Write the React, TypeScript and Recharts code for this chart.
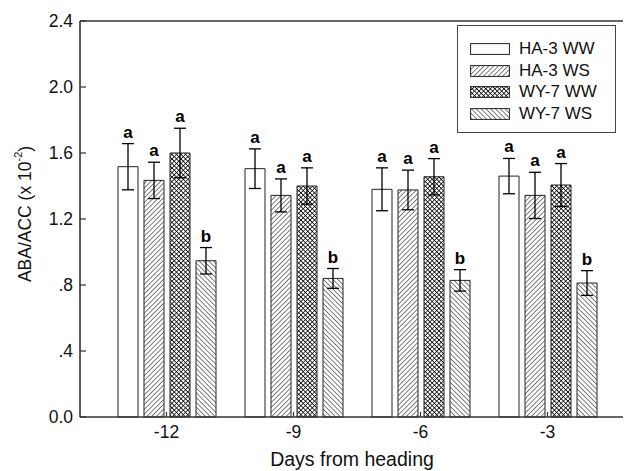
import React from "react";
import { BarChart, Bar, XAxis, YAxis, ErrorBar, LabelList, ReferenceLine, Legend } from "recharts";

const days = ["-12", "-9", "-6", "-3"];
const seriesNames = ["HA-3 WW", "HA-3 WS", "WY-7 WW", "WY-7 WS"];
const ha3ww = [1.517, 1.505, 1.38, 1.46];
const ha3wwErr = [0.14, 0.12, 0.13, 0.107];
const ha3ws = [1.434, 1.343, 1.376, 1.343];
const ha3wsErr = [0.11, 0.1, 0.12, 0.14];
const wy7ww = [1.6, 1.4, 1.456, 1.406];
const wy7wwErr = [0.15, 0.11, 0.11, 0.13];
const wy7ws = [0.947, 0.84, 0.828, 0.812];
const wy7wsErr = [0.08, 0.06, 0.065, 0.075];
const ha3wwLetters = ["a", "a", "a", "a"];
const ha3wsLetters = ["a", "a", "a", "a"];
const wy7wwLetters = ["a", "a", "a", "a"];
const wy7wsLetters = ["b", "b", "b", "b"];
const yTicks = [0, 0.4, 0.8, 1.2, 1.6, 2.0, 2.4];
const yTickLabels = ["0.0", ".4", ".8", "1.2", "1.6", "2.0", "2.4"];

const data = days.map((d, i) => ({
  day: d,
  ha3ww: ha3ww[i],
  ha3wwErr: ha3wwErr[i],
  ha3ws: ha3ws[i],
  ha3wsErr: ha3wsErr[i],
  wy7ww: wy7ww[i],
  wy7wwErr: wy7wwErr[i],
  wy7ws: wy7ws[i],
  wy7wsErr: wy7wsErr[i],
}));

const FONT = "'Liberation Sans', Arial, Helvetica, sans-serif";
const fills = ["#ffffff", "url(#hatchFwd)", "url(#crossHatch)", "url(#hatchBack)"];

const makeLabel = (errs: number[], letters: string[]) => (props: any) => {
  const { x, y, width, height, value, index } = props;
  const i = typeof index === "number" ? index : 0;
  const v = Number(value);
  const pxPerUnit = v ? Number(height) / v : 0;
  const errTop = Number(y) - errs[i] * pxPerUnit;
  return (
    <text
      x={Number(x) + Number(width) / 2}
      y={errTop - 6}
      textAnchor="middle"
      fontFamily={FONT}
      fontWeight="bold"
      fontSize={17}
      fill="#000"
    >
      {letters[i]}
    </text>
  );
};

const YTick = (props: any) => {
  const { x, y, payload, index } = props;
  const idx = yTicks.indexOf(payload.value);
  return (
    <g>
      <line x1={x + 7} x2={x + 13} y1={y} y2={y} stroke="#333" strokeWidth={1.2} />
      <text x={x} y={y} dy="0.36em" textAnchor="end" fontFamily={FONT} fontSize={17.5} fill="#111">
        {yTickLabels[idx >= 0 ? idx : index]}
      </text>
    </g>
  );
};

const XTick = (props: any) => {
  const { x, payload } = props;
  return (
    <g>
      <line x1={x} x2={x} y1={417} y2={412} stroke="#333" strokeWidth={1.2} />
      <text x={x} y={438} textAnchor="middle" fontFamily={FONT} fontSize={17.5} fill="#111">
        {payload.value}
      </text>
    </g>
  );
};

const renderLegend = () => (
  <div
    style={{
      position: "relative",
      width: 159,
      height: 108,
      border: "1.5px solid #444",
      boxSizing: "border-box",
      background: "#fff",
      fontFamily: FONT,
    }}
  >
    {seriesNames.map((n, i) => (
      <div key={n} style={{ position: "absolute", left: 12, top: 15 + i * 21.5, height: 16, width: 145 }}>
        <svg width={40} height={12} style={{ position: "absolute", left: 0, top: 2 }}>
          <rect x={0.6} y={0.6} width={38.8} height={10.8} fill={fills[i]} stroke="#222" strokeWidth={1} />
        </svg>
        <span style={{ position: "absolute", left: 49, top: -2, fontSize: 17, lineHeight: "20px", color: "#111", whiteSpace: "nowrap" }}>
          {n}
        </span>
      </div>
    ))}
  </div>
);

const YLabel = () => (
  <text
    x={25}
    y={214}
    transform="rotate(-90 25 214)"
    textAnchor="middle"
    dominantBaseline="central"
    fontFamily={FONT}
    fontSize={17.5}
    fill="#111"
  >
    ABA/ACC (x 10
    <tspan dy={-7} fontSize={11}>-2</tspan>
    <tspan dy={7}>)</tspan>
  </text>
);

const XLabel = () => (
  <text x={352} y={466} textAnchor="middle" fontFamily={FONT} fontSize={19.5} fill="#111">
    Days from heading
  </text>
);

export default function App() {
  return (
    <div style={{ position: "absolute", left: 0, top: 0, width: 627, height: 471, background: "#fff" }}>
      <BarChart
        width={627}
        height={471}
        data={data}
        margin={{ top: 21, right: 4, bottom: 0, left: 0 }}
        barSize={20}
        barGap={6}
      >
        <defs>
          <pattern id="hatchFwd" patternUnits="userSpaceOnUse" width={3.4} height={3.4} patternTransform="rotate(45)">
            <rect width={3.4} height={3.4} fill="#fff" />
            <line x1={0} y1={0} x2={0} y2={3.4} stroke="#000" strokeWidth={1} />
          </pattern>
          <pattern id="hatchBack" patternUnits="userSpaceOnUse" width={3.4} height={3.4} patternTransform="rotate(-45)">
            <rect width={3.4} height={3.4} fill="#fff" />
            <line x1={0} y1={0} x2={0} y2={3.4} stroke="#000" strokeWidth={1} />
          </pattern>
          <pattern id="crossHatch" patternUnits="userSpaceOnUse" width={3.2} height={3.2} patternTransform="rotate(45)">
            <rect width={3.2} height={3.2} fill="#fff" />
            <path d="M0,0 V3.2 M0,0 H3.2" stroke="#000" strokeWidth={1.4} />
          </pattern>
        </defs>
        <XAxis
          dataKey="day"
          type="category"
          padding={{ left: 23, right: 12 }}
          height={54}
          axisLine={{ stroke: "#333", strokeWidth: 1.6 }}
          tickLine={false}
          tickSize={0}
          tick={<XTick />}
          label={<XLabel />}
        />
        <YAxis
          type="number"
          domain={[0, 2.4]}
          ticks={yTicks}
          width={80}
          interval={0}
          axisLine={{ stroke: "#333", strokeWidth: 1.6 }}
          tickLine={false}
          tickSize={0}
          tickMargin={7}
          tick={<YTick />}
          label={<YLabel />}
        />
        <ReferenceLine y={2.4} stroke="#333" strokeWidth={1.6} />
        <Legend
          layout="vertical"
          align="center"
          verticalAlign="middle"
          wrapperStyle={{ left: 457, top: 25, width: 159, height: 108 }}
          content={renderLegend}
        />
        <Bar dataKey="ha3ww" name={seriesNames[0]} fill={fills[0]} stroke="#222" strokeWidth={1} isAnimationActive={false}>
          <ErrorBar dataKey="ha3wwErr" width={6} stroke="#000" strokeWidth={1.3} />
          <LabelList dataKey="ha3ww" content={makeLabel(ha3wwErr, ha3wwLetters)} />
        </Bar>
        <Bar dataKey="ha3ws" name={seriesNames[1]} fill={fills[1]} stroke="#222" strokeWidth={1} isAnimationActive={false}>
          <ErrorBar dataKey="ha3wsErr" width={6} stroke="#000" strokeWidth={1.3} />
          <LabelList dataKey="ha3ws" content={makeLabel(ha3wsErr, ha3wsLetters)} />
        </Bar>
        <Bar dataKey="wy7ww" name={seriesNames[2]} fill={fills[2]} stroke="#222" strokeWidth={1} isAnimationActive={false}>
          <ErrorBar dataKey="wy7wwErr" width={6} stroke="#000" strokeWidth={1.3} />
          <LabelList dataKey="wy7ww" content={makeLabel(wy7wwErr, wy7wwLetters)} />
        </Bar>
        <Bar dataKey="wy7ws" name={seriesNames[3]} fill={fills[3]} stroke="#222" strokeWidth={1} isAnimationActive={false}>
          <ErrorBar dataKey="wy7wsErr" width={6} stroke="#000" strokeWidth={1.3} />
          <LabelList dataKey="wy7ws" content={makeLabel(wy7wsErr, wy7wsLetters)} />
        </Bar>
      </BarChart>
    </div>
  );
}
